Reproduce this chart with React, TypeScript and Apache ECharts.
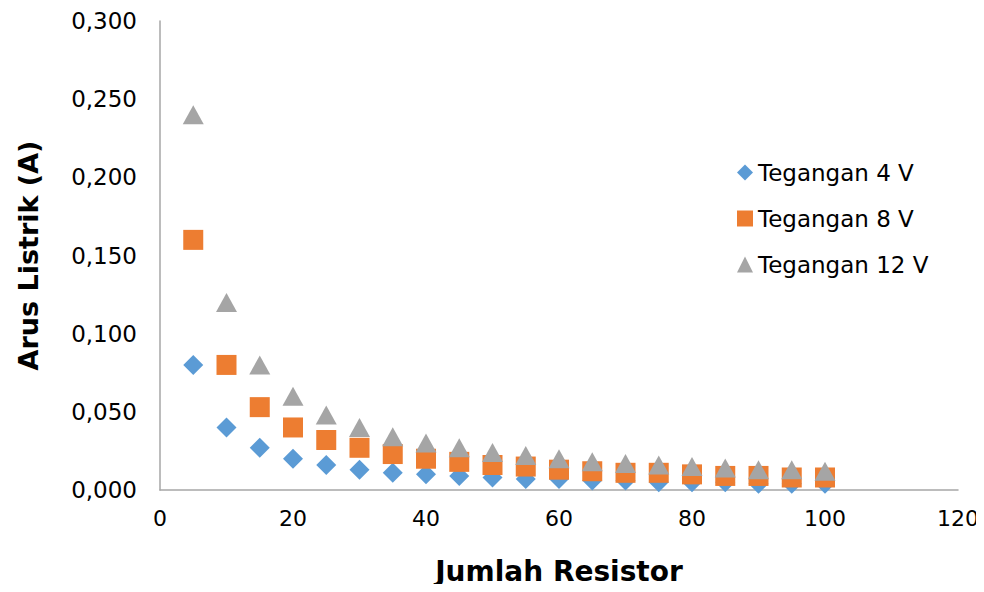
import React, { useEffect, useRef } from "react";
import * as echarts from "echarts";

const resistors = [5, 10, 15, 20, 25, 30, 35, 40, 45, 50, 55, 60, 65, 70, 75, 80, 85, 90, 95, 100];
const arus4V = [0.08, 0.04, 0.027, 0.02, 0.016, 0.013, 0.011, 0.01, 0.009, 0.008, 0.007, 0.007, 0.006, 0.006, 0.005, 0.005, 0.005, 0.004, 0.004, 0.004];
const arus8V = [0.16, 0.08, 0.053, 0.04, 0.032, 0.027, 0.023, 0.02, 0.018, 0.016, 0.015, 0.013, 0.012, 0.011, 0.011, 0.01, 0.009, 0.009, 0.008, 0.008];
const arus12V = [0.24, 0.12, 0.08, 0.06, 0.048, 0.04, 0.034, 0.03, 0.027, 0.024, 0.022, 0.02, 0.018, 0.017, 0.016, 0.015, 0.014, 0.013, 0.013, 0.012];
const seriesNames = ["Tegangan 4 V", "Tegangan 8 V", "Tegangan 12 V"];

const FONT = "DejaVu Sans, Liberation Sans, Arial, sans-serif";

export default function App() {
  const ref = useRef<HTMLDivElement>(null);
  useEffect(() => {
    if (!ref.current) return;
    const chart = echarts.init(ref.current, undefined, { renderer: "svg" });
    const pair = (ys: number[]) => resistors.map((x, i) => [x, ys[i]]);
    chart.setOption({
      animation: false,
      backgroundColor: "#ffffff",
      textStyle: { fontFamily: FONT },
      grid: { left: 160, right: 26, top: 21, bottom: 102, containLabel: false },
      legend: {
        orient: "vertical",
        left: 732,
        top: 156,
        itemGap: 23,
        itemWidth: 16,
        itemHeight: 16,
        textStyle: { fontSize: 23, color: "#000", fontFamily: FONT },
        data: seriesNames,
      },
      xAxis: {
        type: "value",
        min: 0,
        max: 120,
        interval: 20,
        name: "Jumlah Resistor",
        nameLocation: "middle",
        nameGap: 67,
        nameTextStyle: { fontSize: 28, fontWeight: "bold", color: "#000", fontFamily: FONT },
        axisLine: { show: true, lineStyle: { color: "#a6a6a6", width: 1.5 } },
        axisTick: { show: false },
        splitLine: { show: false },
        axisLabel: { fontSize: 22, color: "#000", margin: 17, fontFamily: FONT },
      },
      yAxis: {
        type: "value",
        min: 0,
        max: 0.3,
        interval: 0.05,
        name: "Arus Listrik (A)",
        nameLocation: "middle",
        nameGap: 118,
        nameTextStyle: { fontSize: 27, fontWeight: "bold", color: "#000", fontFamily: FONT },
        axisLine: { show: true, lineStyle: { color: "#a6a6a6", width: 1.5 } },
        axisTick: { show: false },
        splitLine: { show: false },
        axisLabel: {
          fontSize: 23,
          color: "#000",
          margin: 23,
          fontFamily: FONT,
          formatter: (v: number) => v.toFixed(3).replace(".", ","),
        },
      },
      series: [
        {
          name: seriesNames[0],
          type: "scatter",
          symbol: "diamond",
          symbolSize: 20,
          itemStyle: { color: "#5B9BD5", opacity: 1 },
          data: pair(arus4V),
        },
        {
          name: seriesNames[1],
          type: "scatter",
          symbol: "rect",
          symbolSize: 20,
          itemStyle: { color: "#ED7D31", opacity: 1 },
          data: pair(arus8V),
        },
        {
          name: seriesNames[2],
          type: "scatter",
          symbol: "triangle",
          symbolSize: [21, 19],
          itemStyle: { color: "#A5A5A5", opacity: 1 },
          data: pair(arus12V),
        },
      ],
    });
    return () => chart.dispose();
  }, []);
  return <div ref={ref} style={{ width: 984, height: 592, margin: -8 }} />;
}
